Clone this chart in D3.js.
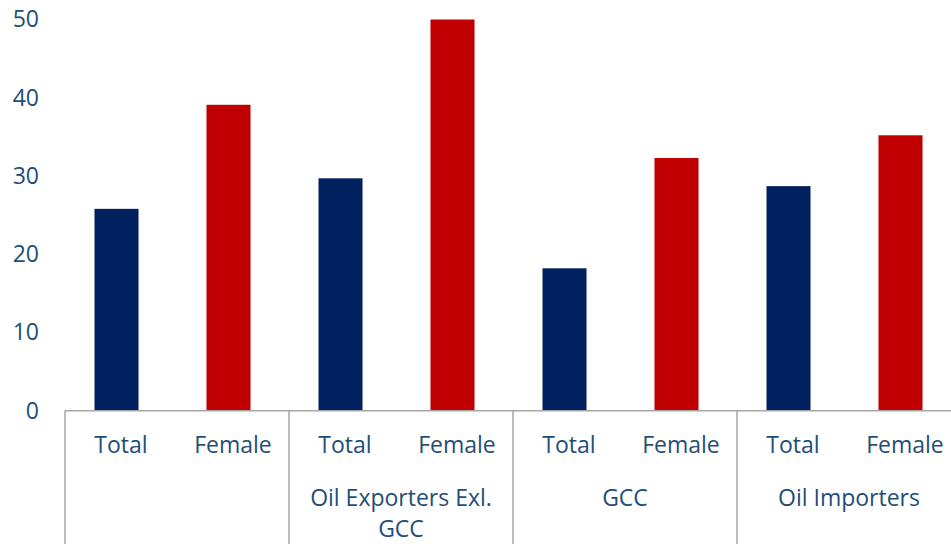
<!DOCTYPE html>
<html>
<head>
<meta charset="utf-8">
<script src="https://cdn.jsdelivr.net/npm/d3@7"></script>
<style>
  html, body { margin: 0; padding: 0; background: #fff; overflow: hidden; }
  svg { display: block; }
  text { font-family: "Open Sans", sans-serif; fill: #1F4E79; }
</style>
</head>
<body>
<svg id="chart" width="951" height="544"></svg>
<script>
// Series: one bar per (region, measure) pair
const measures = ["Total", "Female", "Total", "Female", "Total", "Female", "Total", "Female"];
const regions = ["", "Oil Exporters Exl.|GCC", "GCC", "Oil Importers"];
const values = [25.8, 39.1, 29.7, 50.0, 18.2, 32.3, 28.7, 35.2];
const yTicks = [0, 10, 20, 30, 40, 50];
const barColors = ["#002060", "#C00000"];

const svg = d3.select("#chart");
const plotLeft = 65, plotRight = 961, baseY = 410.7, topY = 19.5;
const idx = d3.range(values.length);

const y = d3.scaleLinear().domain([0, 50]).range([baseY, topY]);

// Category scale for the labels, group scale for the region dividers
const x = d3.scaleBand().domain(idx).range([plotLeft, plotRight]);
const xGroup = d3.scaleBand().domain(d3.range(regions.length)).range([plotLeft, plotRight]);
// Bars sit slightly left of the category centres
const xBar = d3.scaleBand().domain(idx).range([plotLeft - 4.5, plotRight - 4.5])
  .paddingInner(0.607).paddingOuter(0.3035);

// Y axis labels (no axis line, no ticks)
const yAxis = svg.append("g")
  .attr("transform", "translate(39,0)")
  .call(d3.axisLeft(y).tickValues(yTicks).tickSize(0).tickPadding(0).tickFormat(d3.format("d")));
yAxis.select(".domain").remove();
yAxis.selectAll("text")
  .style("font-family", "'Open Sans', sans-serif")
  .style("font-size", "23px")
  .attr("fill", "#1F4E79");

// Bars
svg.append("g").selectAll("rect")
  .data(idx)
  .join("rect")
  .attr("x", i => xBar(i))
  .attr("width", xBar.bandwidth())
  .attr("y", i => y(values[i]))
  .attr("height", i => y(0) - y(values[i]))
  .attr("fill", i => barColors[i % 2]);

// Category axis: baseline and region dividers
const axisG = svg.append("g").attr("stroke", "#A6A6A6").attr("stroke-width", 1.5);
axisG.append("line")
  .attr("x1", plotLeft).attr("x2", plotRight)
  .attr("y1", y(0)).attr("y2", y(0));
axisG.selectAll("line.div")
  .data(d3.range(regions.length + 1))
  .join("line")
  .attr("class", "div")
  .attr("x1", g => g < regions.length ? xGroup(g) : plotRight)
  .attr("x2", g => g < regions.length ? xGroup(g) : plotRight)
  .attr("y1", y(0)).attr("y2", 544);

// Measure labels
svg.append("g").selectAll("text")
  .data(idx)
  .join("text")
  .attr("x", i => x(i) + x.bandwidth() / 2)
  .attr("y", 453)
  .attr("text-anchor", "middle")
  .style("font-size", "23px")
  .text(i => measures[i]);

// Region labels (may wrap onto two lines)
const regionText = svg.append("g").selectAll("text")
  .data(d3.range(regions.length))
  .join("text")
  .attr("x", g => xGroup(g) + xGroup.bandwidth() / 2)
  .attr("y", 505.7)
  .attr("text-anchor", "middle")
  .style("font-size", "23px");
regionText.each(function(g) {
  const lines = regions[g].split("|").filter(s => s.length);
  d3.select(this).selectAll("tspan")
    .data(lines)
    .join("tspan")
    .attr("x", xGroup(g) + xGroup.bandwidth() / 2)
    .attr("dy", (d, k) => k === 0 ? 0 : 31)
    .text(d => d);
});
</script>
</body>
</html>
